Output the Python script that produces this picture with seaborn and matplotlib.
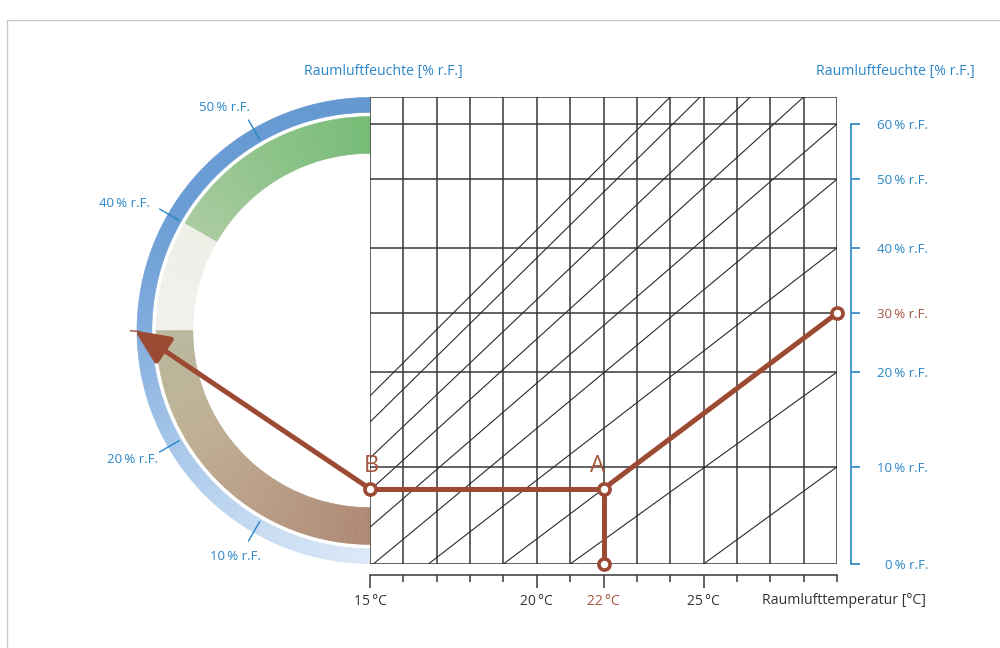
import numpy as np
import pandas as pd
import matplotlib.pyplot as plt
import seaborn as sns
from matplotlib.patches import Wedge
from matplotlib.lines import Line2D
from matplotlib.colors import to_rgb

sns.set_theme(style="white")
plt.rcParams['font.family'] = ['Open Sans', 'DejaVu Sans']

BLUE = '#2a86c8'
RUST = '#9c4a34'
RUST_TXT = '#a4553e'
GRID = '#383838'

# temperature axis (°C), one grid line per degree
temps = list(range(15, 30))
temp_major = [15, 20, 22, 25]

# humidity levels and their height on the chart scale (0..10)
rh_levels = [0, 10, 20, 30, 40, 50, 60]
rh_pos = [0, 2.08, 4.11, 5.37, 6.77, 8.24, 9.42]
y_top = 10

# diagonal lines: start (T, y) -> end (T, y)
diag_t0 = [15, 15, 15, 15, 15, 15.1, 16.75, 19.0, 21.0, 25.0]
diag_y0 = [3.60, 3.04, 2.27, 1.58, 0.79, 0, 0, 0, 0, 0]
diag_t1 = [24.0, 24.9, 26.4, 28.0, 29, 29, 29, 29, 29, 29]
diag_y1 = [10, 10, 10, 10, 9.42, 8.24, 6.77, 5.37, 4.11, 2.08]

# process: B (15 °C) -> A (22 °C) -> 30 % r.F.
path_t = [22, 22, 15, 22, 29]
path_y = [0, 1.61, 1.61, 1.61, 5.37]
path_seg = [0, 0, 0, 1, 1]
point_t = [15, 22, 22, 29]
point_y = [1.61, 1.61, 0, 5.37]

# ring scale: humidity -> angle (0 % at bottom, 60 % at top)
ring_levels = [10, 20, 30, 40, 50]
blue_stops = [(90, '#6297d0'), (150, '#6a9dd5'), (180, '#80abdd'),
              (210, '#a6c6e9'), (240, '#c6dbf2'), (270, '#dce9f7')]
green_stops = [(90, '#76bb76'), (120, '#8dc389'), (150, '#a9cb9f')]
light_stops = [(150, '#eef0e8'), (180, '#f0f1ec')]
brown_stops = [(180, '#b9b99e'), (210, '#bfb093'), (240, '#b99c85'), (270, '#ae8874')]


def rh_angle(v):
    return np.deg2rad(270 - 3 * v)


def gradient_band(axr, a0, a1, r_in, r_out, stops, step=1.0):
    sa = [s[0] for s in stops]
    rgb = np.array([to_rgb(s[1]) for s in stops])
    for a in np.arange(a0, a1, step):
        mid = a + step / 2
        col = [np.interp(mid, sa, rgb[:, k]) for k in range(3)]
        axr.add_patch(Wedge((0, 0), r_out, a, min(a + step, a1), width=r_out - r_in,
                            facecolor=col, edgecolor=col, lw=0.4))


fig = plt.figure(figsize=(10, 6.48), dpi=100)

# ---- ring (left) ----
rax = fig.add_axes([0.13, 77.5 / 648, 0.48, 480 / 648])
rax.set_xlim(-1.03, 1.03)
rax.set_ylim(-1.03, 1.03)
rax.set_aspect('equal')
rax.axis('off')

gradient_band(rax, 90, 270, 0.936, 1.0, blue_stops)
gradient_band(rax, 90, 150, 0.76, 0.918, green_stops)
gradient_band(rax, 150, 180, 0.76, 0.918, light_stops)
gradient_band(rax, 180, 270, 0.76, 0.918, brown_stops)

label_offsets = {50: (-17, 9), 40: (-25, 4), 30: (-26, -2), 20: (-19, -5), 10: (-9, -11)}
for v in ring_levels:
    a = rh_angle(v)
    col = RUST if v == 30 else BLUE
    tcol = RUST_TXT if v == 30 else BLUE
    r0 = 0.99 if v == 30 else 0.944
    rax.plot([r0 * np.cos(a), 1.045 * np.cos(a)], [r0 * np.sin(a), 1.045 * np.sin(a)],
             color=col, lw=1.0, solid_capstyle='butt')
    rax.annotate(f'{v}\u2009% r.F.', xy=(1.045 * np.cos(a), 1.045 * np.sin(a)),
                 xytext=label_offsets[v], textcoords='offset points',
                 ha='center', va='center', fontsize=9.5, color=tcol)

# ---- chart (right) ----
ax = fig.add_axes([0.370, 84 / 648, 0.467, 467 / 648])
ax.patch.set_alpha(0)
ax.set_xlim(15, 29)
ax.set_ylim(0, y_top)

ax.vlines(temps, 0, y_top, color=GRID, lw=1.1, zorder=1)
ax.hlines(rh_pos + [y_top], 15, 29, color=GRID, lw=1.1, zorder=1)

diag = pd.DataFrame({
    'line': np.repeat(np.arange(len(diag_t0)), 2),
    'T': np.ravel(np.column_stack([diag_t0, diag_t1])),
    'y': np.ravel(np.column_stack([diag_y0, diag_y1])),
})
sns.lineplot(data=diag, x='T', y='y', units='line', estimator=None, sort=False,
             color='#2a2a2a', lw=0.8, ax=ax, zorder=2)

proc = pd.DataFrame({'T': path_t, 'y': path_y, 'seg': path_seg})
sns.lineplot(data=proc, x='T', y='y', units='seg', estimator=None, sort=False,
             color=RUST, lw=3.6, ax=ax, zorder=4, solid_capstyle='butt')
ax.plot(point_t, point_y, 'o', ms=8, mfc='white', mec=RUST, mew=2.6,
        zorder=6, clip_on=False)

# arrow from B to 30 % on the ring
a30 = rh_angle(30)
rax.annotate('', xy=(1.01 * np.cos(a30), 1.01 * np.sin(a30)), xycoords='data',
             xytext=(point_t[0], point_y[0]), textcoords=ax.transData,
             arrowprops=dict(arrowstyle='-|>,head_length=2.1,head_width=0.95',
                             color=RUST, lw=3.6, shrinkA=0, shrinkB=0,
                             mutation_scale=10))

ax.annotate('B', xy=(point_t[0], point_y[0]), xytext=(1, 8), textcoords='offset points',
            ha='center', va='bottom', fontsize=17, color=RUST_TXT, zorder=7)
ax.annotate('A', xy=(point_t[1], point_y[1]), xytext=(-4, 8), textcoords='offset points',
            ha='center', va='bottom', fontsize=17, color=RUST_TXT, zorder=7)

ax.set_xlabel('')
ax.set_ylabel('')
for s in ['left', 'top', 'right']:
    ax.spines[s].set_visible(False)
ax.spines['bottom'].set_position(('outward', 8))
ax.spines['bottom'].set_bounds(15, 29)
ax.spines['bottom'].set_color(GRID)
ax.spines['bottom'].set_linewidth(1.1)
ax.set_yticks([])
ax.set_xticks(temp_major)
ax.set_xticklabels([f'{t}\u2009°C' for t in temp_major])
ax.set_xticks([t for t in temps if t not in temp_major], minor=True)
ax.tick_params(axis='x', which='major', length=9.5, width=1.1, color=GRID,
               bottom=True, direction='out', pad=4, labelsize=10, labelcolor='#333333')
ax.tick_params(axis='x', which='minor', length=5, width=1.1, color=GRID,
               bottom=True, direction='out')
t22 = ax.xaxis.get_major_ticks()[temp_major.index(22)]
t22.tick1line.set_color(RUST)
t22.label1.set_color(RUST_TXT)

ax.text(1.0 - 75 / 467, -36 / 467, 'Raumlufttemperatur [°C]', transform=ax.transAxes,
        ha='left', va='center', fontsize=10.2, color='#333333')

# right humidity axis
ax2 = ax.twinx()
ax2.set_ylim(0, y_top)
for s in ['left', 'top', 'bottom']:
    ax2.spines[s].set_visible(False)
ax2.spines['right'].set_position(('outward', 10))
ax2.spines['right'].set_bounds(0, rh_pos[-1])
ax2.spines['right'].set_color(BLUE)
ax2.spines['right'].set_linewidth(1.2)
ax2.set_yticks(rh_pos)
ax2.set_yticklabels([f'{v}\u2009% r.F.' for v in rh_levels])
ax2.tick_params(axis='y', length=6.5, width=1.2, color=BLUE, direction='out',
                pad=49, labelsize=9.5, labelcolor=BLUE)
for lab in ax2.get_yticklabels():
    lab.set_ha('right')
t30 = ax2.yaxis.get_major_ticks()[rh_levels.index(30)]
t30.tick2line.set_color(RUST)
t30.label2.set_color(RUST_TXT)
ax2.grid(False)
ax.grid(False)

fig.text(0.383, 1 - 71 / 648, 'Raumluftfeuchte [% r.F.]', ha='center', va='center',
         fontsize=10.2, color=BLUE)
fig.text(0.975, 1 - 71 / 648, 'Raumluftfeuchte [% r.F.]', ha='right', va='center',
         fontsize=10.2, color=BLUE)

# thin frame
fig.add_artist(Line2D([0.007, 0.007], [0.0, 1 - 20 / 648], color='#c8c8c8', lw=1.0,
                      transform=fig.transFigure))
fig.add_artist(Line2D([0.007, 1.0], [1 - 20 / 648, 1 - 20 / 648], color='#c8c8c8', lw=1.0,
                      transform=fig.transFigure))

fig.savefig('out.png', dpi=100)
